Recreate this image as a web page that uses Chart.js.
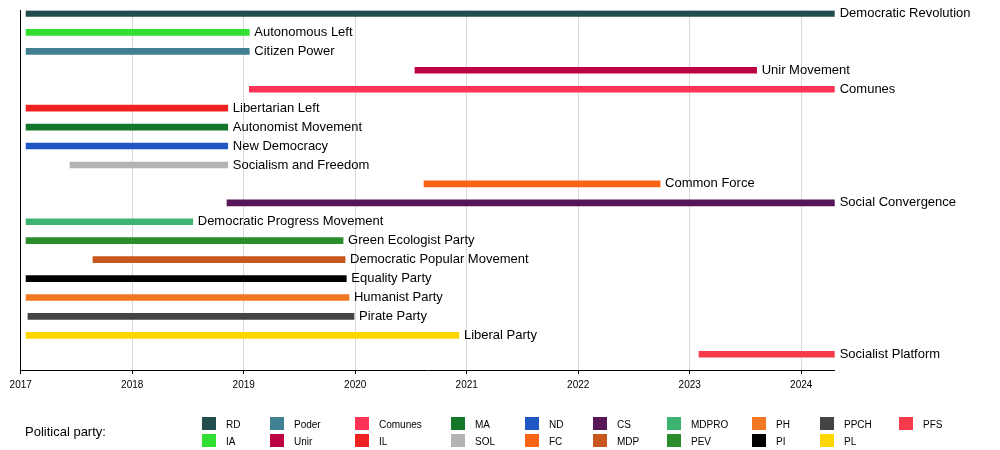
<!DOCTYPE html>
<html>
<head>
<meta charset="utf-8">
<script src="https://cdn.jsdelivr.net/npm/chart.js@4"></script>
<style>
  html, body { margin: 0; padding: 0; background: #fff; }
  #wrap { position: relative; width: 1000px; height: 450px; font-family: "Liberation Sans", Arial, sans-serif; }
  #c { position: absolute; left: 0; top: 0; }
  .lg-title { position: absolute; font-size: 13px; color: #000; white-space: nowrap; line-height: 15px; }
  .lg-sw { position: absolute; width: 14px; height: 13px; }
  .lg-tx { position: absolute; font-size: 10px; color: #000; line-height: 13px; white-space: nowrap; }
</style>
</head>
<body>
<div id="wrap">
  <canvas id="c" width="1000" height="450"></canvas>
  <div id="legend"></div>
</div>
<script>
// ---- data ----
const partyCodes = ["RD","IA","Poder","Unir","Comunes","IL","MA","ND","SOL","FC","CS","MDPRO","PEV","MDP","PI","PH","PPCH","PL","PFS"];
const partyNames = ["Democratic Revolution","Autonomous Left","Citizen Power","Unir Movement","Comunes","Libertarian Left","Autonomist Movement","New Democracy","Socialism and Freedom","Common Force","Social Convergence","Democratic Progress Movement","Green Ecologist Party","Democratic Popular Movement","Equality Party","Humanist Party","Pirate Party","Liberal Party","Socialist Platform"];
// decimal years
const startYears = [2017.048,2017.048,2017.048,2020.536,2019.05,2017.048,2017.048,2017.048,2017.442,2020.617,2018.85,2017.048,2017.048,2017.648,2017.048,2017.048,2017.065,2017.048,2023.083];
const endYears   = [2024.30,2019.05,2019.05,2023.60,2024.30,2018.857,2018.857,2018.857,2018.857,2022.734,2024.30,2018.543,2019.891,2019.909,2019.92,2019.944,2019.989,2020.93,2024.30];
const yearTicks = [2017,2018,2019,2020,2021,2022,2023,2024];
const legendOrder = ["RD","IA","Poder","Unir","Comunes","IL","MA","SOL","ND","FC","CS","MDP","MDPRO","PEV","PH","PI","PPCH","PL","PFS"];
const legendTitle = "Political party:";

// ---- styles ----
const partyColors = {
  RD:"#214d4e", IA:"#30df30", Poder:"#417f92", Unir:"#bb0044", Comunes:"#ff3355",
  IL:"#ee2222", MA:"#147628", ND:"#2057c5", SOL:"#b3b3b3", FC:"#f96515",
  CS:"#561658", MDPRO:"#3cb371", PEV:"#2b8c2b", MDP:"#c8561f", PI:"#000000",
  PH:"#f07823", PPCH:"#444444", PL:"#ffd700", PFS:"#f93a4b"
};
const FONT = '"Liberation Sans", Arial, sans-serif';

// ---- chart ----
const barData = partyCodes.map((c, i) => ({ y: i, x: [startYears[i], endYears[i]] }));

const barLabels = {
  id: 'barLabels',
  afterDatasetsDraw(chart) {
    const ctx = chart.ctx;
    const meta = chart.getDatasetMeta(0);
    ctx.save();
    ctx.font = '13px ' + FONT;
    ctx.fillStyle = '#000';
    ctx.textBaseline = 'middle';
    ctx.textAlign = 'left';
    meta.data.forEach((el, i) => {
      ctx.fillText(partyNames[i], Math.max(el.x, el.base) + 5, el.y);
    });
    ctx.restore();
  }
};

new Chart(document.getElementById('c'), {
  type: 'bar',
  data: {
    datasets: [{
      data: barData,
      backgroundColor: partyCodes.map(c => partyColors[c]),
      borderWidth: 0,
      borderSkipped: false,
      barThickness: 6
    }]
  },
  options: {
    indexAxis: 'y',
    responsive: false,
    animation: false,
    devicePixelRatio: 1,
    layout: { padding: { left: 20.7, right: 165.3, top: 10.5, bottom: 0 } },
    plugins: { legend: { display: false }, tooltip: { enabled: false } },
    scales: {
      x: {
        type: 'linear',
        position: 'bottom',
        min: 2017,
        max: 2024.30,
        offset: false,
        afterBuildTicks: s => { s.ticks = yearTicks.map(v => ({ value: v })); },
        afterFit: s => { s.height = 80; },
        ticks: {
          callback: v => String(v),
          font: { family: FONT, size: 10 },
          color: '#000',
          padding: 5,
          maxRotation: 0
        },
        grid: { color: '#d9d9d9', tickColor: '#000', tickLength: 4, lineWidth: 1 },
        border: { color: '#000', width: 1 }
      },
      y: {
        type: 'linear',
        reverse: true,
        offset: false,
        min: -0.158,
        max: 18.83,
        afterFit: s => { s.width = 0; },
        ticks: { display: false },
        grid: { display: false, drawTicks: false },
        border: { display: true, color: '#000', width: 1 }
      }
    }
  },
  plugins: [barLabels]
});

// ---- legend (HTML) ----
const legendColX = [202, 270, 355, 451, 525, 593, 667, 752, 820, 899];
const lg = document.getElementById('legend');
const t = document.createElement('div');
t.className = 'lg-title';
t.textContent = legendTitle;
t.style.left = '25px';
t.style.top = '424px';
lg.appendChild(t);
legendOrder.forEach((code, k) => {
  const col = Math.floor(k / 2), row = k % 2;
  const x = legendColX[col], y = 417 + row * 17;
  const sw = document.createElement('div');
  sw.className = 'lg-sw';
  sw.style.left = x + 'px';
  sw.style.top = y + 'px';
  sw.style.background = partyColors[code];
  lg.appendChild(sw);
  const tx = document.createElement('div');
  tx.className = 'lg-tx';
  tx.style.left = (x + 24) + 'px';
  tx.style.top = (y + 1) + 'px';
  tx.textContent = code;
  lg.appendChild(tx);
});
</script>
</body>
</html>
